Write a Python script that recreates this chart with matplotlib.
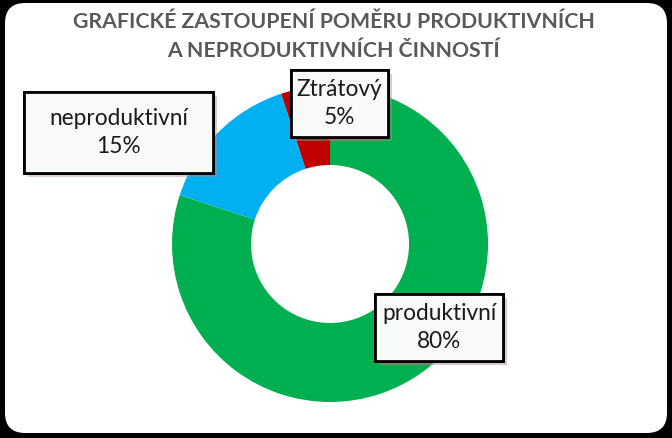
import matplotlib
matplotlib.use("Agg")
import matplotlib.pyplot as plt
import matplotlib.patheffects as pe
from matplotlib.patches import FancyBboxPatch, Rectangle

plt.rcParams['font.family'] = ['Lato', 'DejaVu Sans']

categories = ['produktivní', 'neproduktivní', 'Ztrátový']
values = [80, 15, 5]
colors = ['#00B050', '#00B0F0', '#C00000']
title_lines = ['GRAFICKÉ ZASTOUPENÍ POMĚRU PRODUKTIVNÍCH',
               'A NEPRODUKTIVNÍCH ČINNOSTÍ']

# label box centres and sizes (data coords, donut radius = 1 = 158 px)
R_PX = 158
label_pos = [(0.69, -0.528), (-1.34, 0.706), (0.06, 0.889)]
label_size = [(128 / R_PX, 67 / R_PX), (189 / R_PX, 81 / R_PX),
              (97 / R_PX, 67 / R_PX)]

fig = plt.figure(figsize=(6.72, 4.38), dpi=100)
fig.patch.set_facecolor('black')

# white rounded chart area
frame = FancyBboxPatch((5 / 672, 5 / 438), 662 / 672, 430 / 438,
                       boxstyle='round,pad=0,rounding_size=0.03',
                       transform=fig.transFigure, facecolor='white',
                       edgecolor='none', mutation_aspect=672 / 438,
                       zorder=-10)
fig.patches.append(frame)

for line, yb in zip(title_lines, [0.936, 0.870]):
    fig.text(0.497, yb, line, ha='center', va='baseline', fontsize=15.3,
             fontweight='bold', color='#595959')

ax = fig.add_axes([0.256, 0.0822, 0.4702, 0.7215])
ax.pie(values, colors=colors, startangle=90, counterclock=False,
       radius=1, wedgeprops=dict(width=0.5, edgecolor='none'))
ax.set_xlim(-1, 1)
ax.set_ylim(-1, 1)
ax.set_aspect('equal')
ax.axis('off')

total = sum(values)
for name, v, (x, y), (w, h) in zip(categories, values, label_pos, label_size):
    box = Rectangle((x - w / 2, y - h / 2), w, h, facecolor='#F8FAF8',
                    edgecolor='black', linewidth=2, clip_on=False, zorder=4)
    box.set_path_effects([
        pe.withSimplePatchShadow(offset=(3, -3), shadow_rgbFace='#b08888',
                                 alpha=0.45),
        pe.Normal()])
    ax.add_patch(box)
    ax.text(x, y, f'{name}\n{round(v / total * 100)}%', ha='center',
            va='center', fontsize=16.3, color='#1a1a1a', linespacing=1.4,
            clip_on=False, zorder=5)

fig.savefig('out.png', dpi=100, facecolor=fig.get_facecolor())
